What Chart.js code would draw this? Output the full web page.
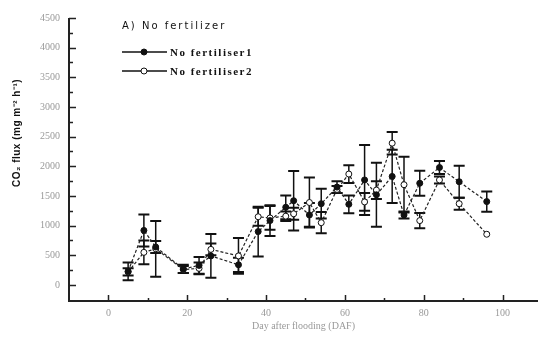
<!DOCTYPE html>
<html>
<head>
<meta charset="utf-8">
<script src="https://cdn.jsdelivr.net/npm/chart.js@4"></script>
<style>
html, body { margin: 0; padding: 0; background: #fff; }
#wrap { width: 543px; height: 338px; position: relative; }
</style>
</head>
<body>
<div id="wrap"><canvas id="chart"></canvas></div>
<script>
// Sampling days (DAF)
const days = [5, 9, 12, 19, 23, 26, 33, 38, 41, 45, 47, 51, 54, 58, 61, 65, 68, 72, 75, 79, 84, 89, 96];

// No fertiliser 1 (filled circles)
const fert1 = [230, 920, 640, 270, 330, 490, 340, 900, 1085, 1310, 1420, 1180, 1370, 1650, 1360, 1770, 1520, 1830, 1180, 1715, 1980, 1740, 1405];
const fert1Err = [150, 270, 100, 70, 140, 370, 120, 420, 260, 200, 500, 200, 250, 100, 150, 590, 540, 450, 60, 210, 110, 270, 170];

// No fertiliser 2 (open circles)
const fert2 = [220, 550, 610, 260, 280, 600, 490, 1150, 1130, 1160, 1200, 1390, 1050, 1610, 1870, 1400, 1600, 2390, 1690, 1085, 1770, 1370, 855];
const fert2Err = [60, 200, 470, 60, 100, 100, 300, 150, 200, 80, 100, 420, 180, 60, 150, 150, 150, 190, 470, 130, 60, 100, 0];

const xTicks = [0, 20, 40, 60, 80, 100];
const xMinor = [10, 30, 50, 70, 90];
const yTicks = [0, 500, 1000, 1500, 2000, 2500, 3000, 3500, 4000, 4500];
const yMinor = [250, 750, 1250, 1750, 2250, 2750, 3250, 3750, 4250];

const toPoints = (xs, ys) => xs.map((d, i) => ({ x: d, y: ys[i] }));

// error bars, axes with inward ticks, legend and y title
const decorations = {
    id: 'decorations',
    beforeDatasetsDraw(chart) {
        const ctx = chart.ctx;
        const xs = chart.scales.x, ys = chart.scales.y;
        const sets = [[fert1, fert1Err], [fert2, fert2Err]];
        ctx.save();
        ctx.strokeStyle = '#111';
        sets.forEach(([vals, errs]) => {
            days.forEach((d, i) => {
                if (!errs[i]) return;
                const px = xs.getPixelForValue(d);
                const top = ys.getPixelForValue(vals[i] + errs[i]);
                const bot = ys.getPixelForValue(vals[i] - errs[i]);
                ctx.lineWidth = 1.5;
                ctx.beginPath();
                ctx.moveTo(px, top); ctx.lineTo(px, bot);
                ctx.stroke();
                ctx.lineWidth = 2;
                ctx.beginPath();
                ctx.moveTo(px - 5.5, top); ctx.lineTo(px + 5.5, top);
                ctx.moveTo(px - 5.5, bot); ctx.lineTo(px + 5.5, bot);
                ctx.stroke();
            });
        });
        ctx.restore();
    },
    afterDraw(chart) {
        const ctx = chart.ctx;
        const area = chart.chartArea;
        const xs = chart.scales.x, ys = chart.scales.y;
        ctx.save();
        ctx.strokeStyle = '#222';
        ctx.lineWidth = 2;
        ctx.beginPath();
        ctx.moveTo(area.left, area.top);
        ctx.lineTo(area.left, area.bottom);
        ctx.lineTo(area.right, area.bottom);
        ctx.stroke();

        ctx.lineWidth = 1.5;
        ctx.beginPath();
        yTicks.forEach(v => {
            const py = Math.round(ys.getPixelForValue(v)) + 0.5;
            ctx.moveTo(area.left, py); ctx.lineTo(area.left + 7, py);
        });
        yMinor.forEach(v => {
            const py = Math.round(ys.getPixelForValue(v)) + 0.5;
            ctx.moveTo(area.left, py); ctx.lineTo(area.left + 4, py);
        });
        xTicks.forEach(v => {
            const px = Math.round(xs.getPixelForValue(v)) + 0.5;
            ctx.moveTo(px, area.bottom); ctx.lineTo(px, area.bottom - 6);
        });
        xMinor.forEach(v => {
            const px = Math.round(xs.getPixelForValue(v)) + 0.5;
            ctx.moveTo(px, area.bottom); ctx.lineTo(px, area.bottom - 3);
        });
        ctx.stroke();

        // panel title and legend
        ctx.fillStyle = '#111';
        ctx.textBaseline = 'middle';
        ctx.textAlign = 'left';
        ctx.font = '10px "DejaVu Sans"';
        ctx.letterSpacing = '2px';
        ctx.fillText('A) No fertilizer', 122, 26);

        ctx.font = 'bold 11px "Liberation Serif"';
        ctx.letterSpacing = '1.5px';
        [['No fertiliser1', 52, '#111'], ['No fertiliser2', 71, '#fff']].forEach(([label, y, fill]) => {
            ctx.lineWidth = 1.5;
            ctx.strokeStyle = '#111';
            ctx.beginPath();
            ctx.moveTo(122, y); ctx.lineTo(167, y);
            ctx.stroke();
            ctx.fillStyle = fill;
            ctx.lineWidth = 1;
            ctx.beginPath();
            ctx.arc(144, y, 3, 0, Math.PI * 2);
            ctx.fill(); ctx.stroke();
            ctx.fillStyle = '#111';
            ctx.fillText(label, 170, y + 1);
        });

        // y axis title
        ctx.letterSpacing = '0.5px';
        ctx.translate(17, 133);
        ctx.rotate(-Math.PI / 2);
        ctx.textAlign = 'center';
        ctx.font = 'bold 10px "Liberation Sans"';
        ctx.fillText('CO\u2082 flux (mg m\u207B\u00B2 h\u207B\u00B9)', 0, 0);
        ctx.restore();
    }
};

const lineStyle = {
    borderColor: '#222',
    borderWidth: 1.2,
    borderDash: [3, 2],
    pointRadius: 3,
    pointBorderColor: '#111',
    pointBorderWidth: 1,
    showLine: true,
    fill: false,
    tension: 0
};

new Chart(document.getElementById('chart'), {
    type: 'scatter',
    data: {
        datasets: [
            Object.assign({ label: 'No fertiliser1', data: toPoints(days, fert1), pointBackgroundColor: '#111' }, lineStyle),
            Object.assign({ label: 'No fertiliser2', data: toPoints(days, fert2), pointBackgroundColor: '#fff' }, lineStyle)
        ]
    },
    options: {
        responsive: true,
        maintainAspectRatio: false,
        animation: false,
        layout: { padding: { top: 18, right: 0, left: 0, bottom: 0 } },
        plugins: { legend: { display: false }, tooltip: { enabled: false } },
        scales: {
            x: {
                type: 'linear',
                min: -10,
                max: 109,
                afterBuildTicks: s => { s.ticks = xTicks.map(v => ({ value: v })); },
                afterFit: s => { s.height = 37; },
                grid: { display: false, drawTicks: false },
                border: { display: false },
                ticks: { color: '#999', padding: 6, font: { family: 'Liberation Serif', size: 10 }, callback: v => String(v) },
                title: {
                    display: true,
                    text: 'Day after flooding (DAF)',
                    color: '#999',
                    padding: { top: 0, bottom: 6 },
                    font: { family: 'Liberation Serif', size: 10 }
                }
            },
            y: {
                min: -270,
                max: 4500,
                afterBuildTicks: s => { s.ticks = yTicks.map(v => ({ value: v })); },
                afterFit: s => { s.width = 69; },
                grid: { display: false, drawTicks: false },
                border: { display: false },
                ticks: { color: '#999', padding: 9, font: { family: 'Liberation Serif', size: 10 }, callback: v => String(v) }
            }
        }
    },
    plugins: [decorations]
});
</script>
</body>
</html>
